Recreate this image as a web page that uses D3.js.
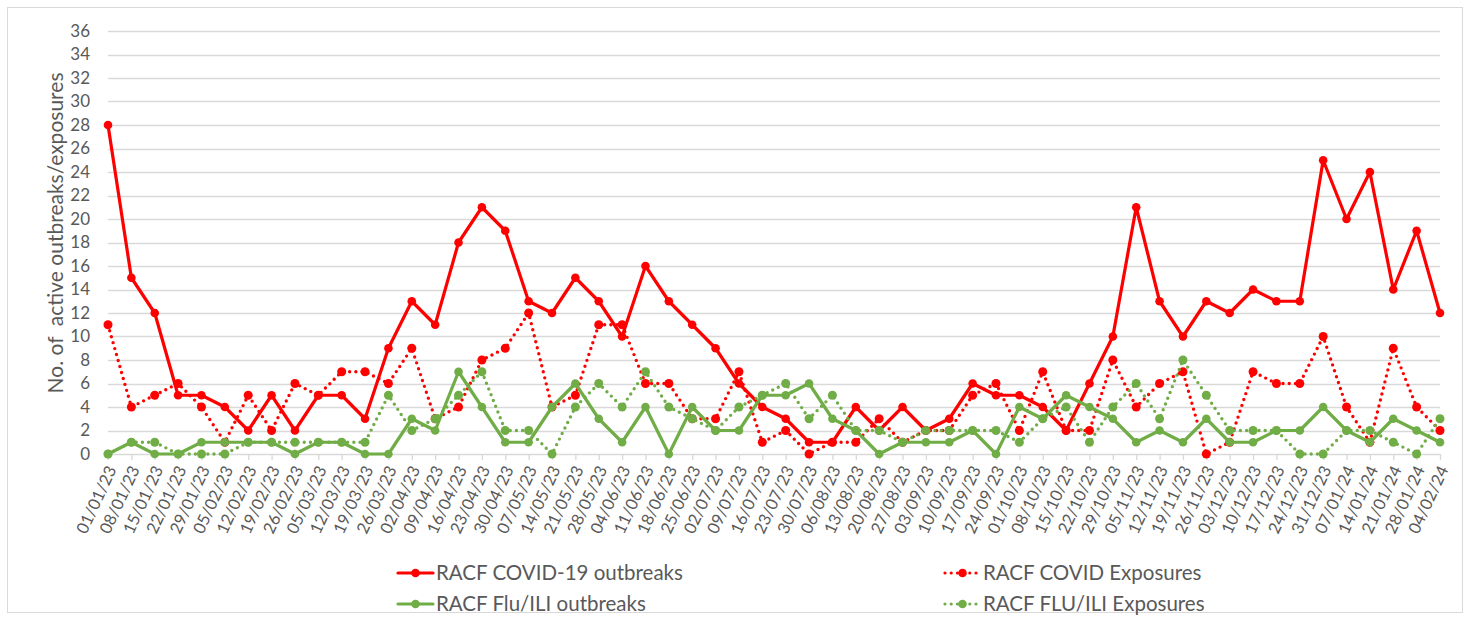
<!DOCTYPE html>
<html>
<head>
<meta charset="utf-8">
<script src="https://cdn.jsdelivr.net/npm/d3@7"></script>
<style>
  html, body { margin: 0; padding: 0; background: #fff; }
  svg { display: block; font-family: Lato, "Open Sans", sans-serif; }
</style>
</head>
<body>
<svg id="chart" width="1470" height="619"></svg>
<script>
const dates = ["01/01/23","08/01/23","15/01/23","22/01/23","29/01/23","05/02/23","12/02/23","19/02/23","26/02/23","05/03/23","12/03/23","19/03/23","26/03/23","02/04/23","09/04/23","16/04/23","23/04/23","30/04/23","07/05/23","14/05/23","21/05/23","28/05/23","04/06/23","11/06/23","18/06/23","25/06/23","02/07/23","09/07/23","16/07/23","23/07/23","30/07/23","06/08/23","13/08/23","20/08/23","27/08/23","03/09/23","10/09/23","17/09/23","24/09/23","01/10/23","08/10/23","15/10/23","22/10/23","29/10/23","05/11/23","12/11/23","19/11/23","26/11/23","03/12/23","10/12/23","17/12/23","24/12/23","31/12/23","07/01/24","14/01/24","21/01/24","28/01/24","04/02/24"];

const covidOutbreaks = [28,15,12,5,5,4,2,5,2,5,5,3,9,13,11,18,21,19,13,12,15,13,10,16,13,11,9,6,4,3,1,1,4,2,4,2,3,6,5,5,4,2,6,10,21,13,10,13,12,14,13,13,25,20,24,14,19,12];
const covidExposures = [11,4,5,6,4,1,5,2,6,5,7,7,6,9,3,4,8,9,12,4,5,11,11,6,6,3,3,7,1,2,0,1,1,3,1,2,2,5,6,2,7,2,2,8,4,6,7,0,1,7,6,6,10,4,1,9,4,2];
const fluOutbreaks = [0,1,0,0,1,1,1,1,0,1,1,0,0,3,2,7,4,1,1,4,6,3,1,4,0,4,2,2,5,5,6,3,2,0,1,1,1,2,0,4,3,5,4,3,1,2,1,3,1,1,2,2,4,2,1,3,2,1];
const fluExposures = [0,1,1,0,0,0,1,1,1,1,1,1,5,2,3,5,7,2,2,0,4,6,4,7,4,3,2,4,5,6,3,5,2,2,1,2,2,2,2,1,3,4,1,4,6,3,8,5,2,2,2,0,0,2,2,1,0,3];

const yTicks = [0,2,4,6,8,10,12,14,16,18,20,22,24,26,28,30,32,34,36];
const yTitle = "No. of  active outbreaks/exposures";

const series = [
  {name: "RACF COVID-19 outbreaks", values: covidOutbreaks, color: "#FF0000", dotted: false},
  {name: "RACF COVID Exposures", values: covidExposures, color: "#FF0000", dotted: true},
  {name: "RACF Flu/ILI outbreaks", values: fluOutbreaks, color: "#70AD47", dotted: false},
  {name: "RACF FLU/ILI Exposures", values: fluExposures, color: "#70AD47", dotted: true}
];

const svg = d3.select("#chart");
const W = 1470, H = 619;

// outer border
svg.append("rect").attr("x", 7.5).attr("y", 7.5).attr("width", W - 15).attr("height", H - 14)
  .attr("fill", "#fff").attr("stroke", "#d9d9d9").attr("stroke-width", 1);

const x = d3.scalePoint().domain(dates).range([108, 1440]);
const y = d3.scaleLinear().domain([0, 36]).range([454, 31]);

// gridlines
svg.append("g").selectAll("line").data(yTicks.filter(d => d > 0)).join("line")
  .attr("x1", 108).attr("x2", 1440)
  .attr("y1", d => Math.round(y(d)) + 0.5).attr("y2", d => Math.round(y(d)) + 0.5)
  .attr("stroke", "#d9d9d9").attr("stroke-width", 1.3);

// y axis labels
const yAxis = d3.axisLeft(y).tickValues(yTicks).tickSize(0).tickPadding(18);
const yg = svg.append("g").attr("transform", "translate(108,0)").call(yAxis);
yg.select(".domain").remove();
yg.selectAll("text").attr("fill", "#595959").style("font-size", "17px").style("font-family", "Lato, sans-serif");

// x axis
const xAxis = d3.axisBottom(x).tickSize(6).tickSizeOuter(0);
const xg = svg.append("g").attr("transform", "translate(0," + y(0) + ")").call(xAxis);
xg.select(".domain").attr("stroke", "#d9d9d9").attr("stroke-width", 1.3).attr("d", "M108,0.5H1440");
xg.selectAll(".tick line").attr("stroke", "#d9d9d9").attr("stroke-width", 1.3);
xg.selectAll(".tick text")
  .attr("fill", "#595959").style("font-size", "16.5px").style("font-family", "Lato, sans-serif")
  .attr("text-anchor", "end").attr("dy", "0.35em").attr("y", 0)
  .attr("transform", "translate(3,13) rotate(-65)");

// y title
svg.append("text")
  .attr("transform", "translate(63,233) rotate(-90)")
  .attr("text-anchor", "middle")
  .attr("fill", "#595959")
  .style("font-size", "21px")
  .style("white-space", "pre")
  .attr("xml:space", "preserve")
  .text(yTitle);

// lines
const line = d3.line().x((d, i) => x(dates[i])).y(d => y(d));
series.forEach(s => {
  const g = svg.append("g");
  g.append("path").datum(s.values)
    .attr("d", line)
    .attr("fill", "none")
    .attr("stroke", s.color)
    .attr("stroke-width", s.dotted ? 3.4 : 3.2)
    .attr("stroke-linejoin", "round")
    .attr("stroke-linecap", "round")
    .attr("stroke-dasharray", s.dotted ? "0,6.2" : null);
  g.selectAll("circle").data(s.values).join("circle")
    .attr("cx", (d, i) => x(dates[i]))
    .attr("cy", d => y(d))
    .attr("r", s.dotted ? 4.5 : 4.3)
    .attr("fill", s.color);
});

// legend
const legendPos = [
  {lx: 398, ly: 573},
  {lx: 945, ly: 573},
  {lx: 398, ly: 604},
  {lx: 945, ly: 604}
];
series.forEach((s, i) => {
  const p = legendPos[i];
  const g = svg.append("g").attr("transform", `translate(${p.lx},${p.ly})`);
  g.append("line").attr("x1", 0).attr("x2", 35).attr("y1", 0).attr("y2", 0)
    .attr("stroke", s.color).attr("stroke-width", 3.2)
    .attr("stroke-linecap", "round")
    .attr("stroke-dasharray", s.dotted ? "0,6.2" : null);
  g.append("circle").attr("cx", 17.5).attr("cy", 0).attr("r", 4.3).attr("fill", s.color);
  g.append("text").attr("x", 38).attr("y", 0).attr("dy", "0.35em")
    .attr("fill", "#595959").style("font-size", "20.5px").text(s.name);
});
</script>
</body>
</html>
